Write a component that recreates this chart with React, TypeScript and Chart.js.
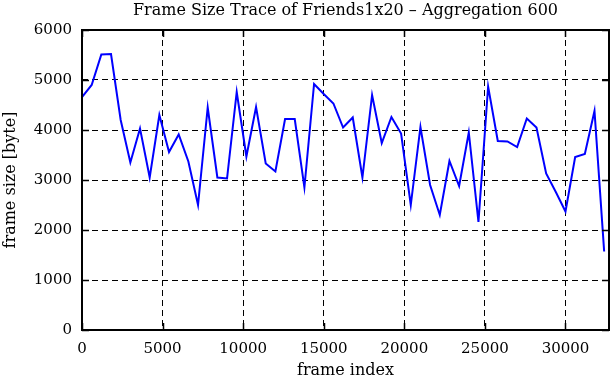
import React, { useEffect, useRef } from 'react';
import { Chart, registerables } from 'chart.js';

Chart.register(...registerables);

const frameIndex = [
  0, 600, 1200, 1800, 2400, 3000, 3600, 4200, 4800, 5400,
  6000, 6600, 7200, 7800, 8400, 9000, 9600, 10200, 10800, 11400,
  12000, 12600, 13200, 13800, 14400, 15000, 15600, 16200, 16800, 17400,
  18000, 18600, 19200, 19800, 20400, 21000, 21600, 22200, 22800, 23400,
  24000, 24600, 25200, 25800, 26400, 27000, 27600, 28200, 28800, 29400,
  30000, 30600, 31200, 31800, 32400,
];

const frameSize = [
  4660, 4900, 5510, 5520, 4200, 3350, 4030, 3050, 4300, 3560,
  3910, 3370, 2500, 4450, 3050, 3030, 4760, 3470, 4460, 3330,
  3170, 4220, 4220, 2850, 4920, 4720, 4530, 4050, 4250, 3050,
  4700, 3740, 4260, 3930, 2500, 4060, 2900, 2300, 3380, 2880,
  3950, 2160, 4870, 3780, 3770, 3660, 4230, 4050, 3130, 2760,
  2370, 3460, 3520, 4380, 1570,
];

const xTicks = [0, 5000, 10000, 15000, 20000, 25000, 30000];
const yTicks = [0, 1000, 2000, 3000, 4000, 5000, 6000];

const TITLE = 'Frame Size Trace of Friends1x20 – Aggregation 600';
const X_TITLE = 'frame index';
const Y_TITLE = 'frame size [byte]';

const FAMILY = "'DejaVu Serif', serif";
const TICK_SIZE = 15;
const LABEL_SIZE = 16;

const framePlugin = {
  id: 'gnuFrame',
  afterDatasetsDraw(chart: any) {
    const { ctx, chartArea } = chart;
    const { left, right, top, bottom } = chartArea;
    const xs = chart.scales.x;
    const ys = chart.scales.y;
    const tl = 7;
    ctx.save();
    ctx.strokeStyle = '#000';
    ctx.lineWidth = 1.5;
    ctx.setLineDash([]);
    ctx.beginPath();
    xTicks.forEach((v) => {
      const px = Math.round(xs.getPixelForValue(v)) + 0.5;
      ctx.moveTo(px, bottom);
      ctx.lineTo(px, bottom - tl);
      ctx.moveTo(px, top);
      ctx.lineTo(px, top + tl);
    });
    yTicks.forEach((v) => {
      const py = Math.round(ys.getPixelForValue(v)) + 0.5;
      ctx.moveTo(left, py);
      ctx.lineTo(left + tl, py);
      ctx.moveTo(right, py);
      ctx.lineTo(right - tl, py);
    });
    ctx.stroke();
    ctx.lineWidth = 2;
    ctx.strokeRect(left, top, right - left, bottom - top);
    ctx.restore();
  },
};

export default function App() {
  const canvasRef = useRef<HTMLCanvasElement | null>(null);

  useEffect(() => {
    document.body.style.margin = '0';
    const canvas = canvasRef.current;
    if (!canvas) return;
    const tickFont = { family: FAMILY, size: TICK_SIZE };
    const labelFont = { family: FAMILY, size: LABEL_SIZE };
    const chart = new Chart(canvas, {
      type: 'line',
      data: {
        datasets: [
          {
            data: frameIndex.map((x, i) => ({ x, y: frameSize[i] })),
            borderColor: '#0000ff',
            borderWidth: 2,
            pointRadius: 0,
            tension: 0,
            fill: false,
          },
        ],
      },
      plugins: [framePlugin],
      options: {
        responsive: false,
        animation: false,
        devicePixelRatio: 1,
        layout: { padding: { top: 0, right: 2, bottom: 0, left: 0 } },
        plugins: {
          legend: { display: false },
          tooltip: { enabled: false },
          title: {
            display: true,
            text: TITLE,
            color: '#000',
            font: { family: FAMILY, size: LABEL_SIZE, weight: 'normal', lineHeight: 1.2 },
            fullSize: false,
            padding: { top: 1, bottom: 9.8 },
          },
        },
        scales: {
          x: {
            type: 'linear',
            min: 0,
            max: 32700,
            afterBuildTicks: (s: any) => {
              s.ticks = xTicks.map((v) => ({ value: v }));
            },
            afterFit: (s: any) => {
              s.height = 50;
            },
            ticks: {
              color: '#000',
              font: tickFont,
              padding: 10,
              maxRotation: 0,
              autoSkip: false,
              callback: (v: any) => String(v),
            },
            grid: { color: '#000', lineWidth: 1, drawTicks: false },
            border: { display: false, dash: [6, 4] },
            title: {
              display: true,
              text: X_TITLE,
              color: '#000',
              font: labelFont,
              padding: { top: 0, bottom: 0 },
            },
          },
          y: {
            type: 'linear',
            min: 0,
            max: 6000,
            afterBuildTicks: (s: any) => {
              s.ticks = yTicks.map((v) => ({ value: v }));
            },
            afterFit: (s: any) => {
              s.width = 82;
            },
            ticks: {
              color: '#000',
              font: tickFont,
              padding: 10,
              autoSkip: false,
              callback: (v: any) => String(v),
            },
            grid: { color: '#000', lineWidth: 1, drawTicks: false },
            border: { display: false, dash: [6, 4] },
            title: {
              display: true,
              text: Y_TITLE,
              color: '#000',
              font: labelFont,
              padding: { top: 1, bottom: 0 },
            },
          },
        },
      },
    } as any);
    return () => chart.destroy();
  }, []);

  return (
    <div style={{ position: 'absolute', left: 0, top: 0, width: 611, height: 380, background: '#fff' }}>
      <canvas ref={canvasRef} width={611} height={380} style={{ display: 'block' }} />
    </div>
  );
}
